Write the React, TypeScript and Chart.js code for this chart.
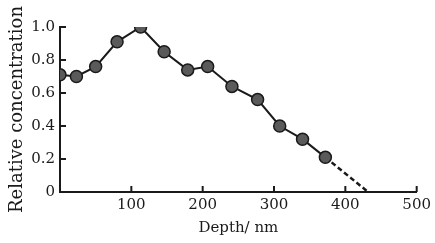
import React, { useEffect, useRef } from "react";
import { Chart, registerables } from "chart.js";

Chart.register(...registerables);

const depths = [0, 23, 50, 80, 113, 146, 179, 207, 241, 277, 308, 340, 372, 432];
const concentrations = [0.71, 0.70, 0.76, 0.91, 1.0, 0.85, 0.74, 0.76, 0.64, 0.56, 0.40, 0.32, 0.21, 0];
const xTicks = [0, 100, 200, 300, 400, 500];
const yTicks = [0, 0.2, 0.4, 0.6, 0.8, 1.0];
const xTitle = "Depth/ nm";
const yTitle = "Relative concentration";

const FONT = "DejaVu Serif";
const INK = "#1a1a1a";

const innerTicks = {
  id: "innerTicks",
  afterDraw(chart: any) {
    const { ctx, scales } = chart;
    const xs = scales.x;
    const ys = scales.y;
    ctx.save();
    ctx.strokeStyle = INK;
    ctx.lineWidth = 2;
    xTicks.forEach((v) => {
      if (v === 0) return;
      const px = xs.getPixelForValue(v);
      ctx.beginPath();
      ctx.moveTo(px, ys.bottom);
      ctx.lineTo(px, ys.bottom - 6);
      ctx.stroke();
    });
    yTicks.forEach((v) => {
      if (v === 0) return;
      const py = ys.getPixelForValue(v);
      ctx.beginPath();
      ctx.moveTo(xs.left, py);
      ctx.lineTo(xs.left + 6, py);
      ctx.stroke();
    });
    ctx.restore();
  },
};

export default function App() {
  const ref = useRef<HTMLCanvasElement | null>(null);
  useEffect(() => {
    document.body.style.margin = "0";
    const last = depths.length - 1;
    const chart = new Chart(ref.current as HTMLCanvasElement, {
      type: "line",
      data: {
        datasets: [
          {
            data: depths.map((d, i) => ({ x: d, y: concentrations[i] })),
            borderColor: INK,
            borderWidth: 2,
            pointRadius: depths.map((_, i) => (i === last ? 0 : 6)),
            pointBackgroundColor: "#5a5a5a",
            pointBorderColor: INK,
            pointBorderWidth: 1.5,
            tension: 0,
            segment: {
              borderDash: (c: any) => (c.p1DataIndex === last ? [5, 3] : undefined),
              borderWidth: (c: any) => (c.p1DataIndex === last ? 2.5 : undefined),
            },
          },
        ],
      },
      plugins: [innerTicks],
      options: {
        animation: false,
        responsive: false,
        maintainAspectRatio: false,
        layout: { padding: { top: 27, right: 8, left: 0, bottom: 0 } },
        plugins: { legend: { display: false }, tooltip: { enabled: false } },
        scales: {
          x: {
            type: "linear",
            min: 0,
            max: 500,
            afterBuildTicks: (s: any) => {
              s.ticks = xTicks.map((v) => ({ value: v }));
            },
            afterFit: (s: any) => {
              s.height = 51;
            },
            grid: { display: false, drawTicks: false },
            border: { display: true, color: INK, width: 2 },
            ticks: {
              color: INK,
              padding: 4,
              font: { family: FONT, size: 15 },
              callback: (v: any) => (v === 0 ? "" : String(v)),
            },
            title: {
              display: true,
              text: xTitle,
              color: INK,
              font: { family: FONT, size: 15 },
              padding: { top: 0, bottom: 6 },
            },
          },
          y: {
            type: "linear",
            min: 0,
            max: 1,
            afterBuildTicks: (s: any) => {
              s.ticks = yTicks.map((v) => ({ value: v }));
            },
            afterFit: (s: any) => {
              s.width = 60;
            },
            grid: { display: false, drawTicks: false },
            border: { display: true, color: INK, width: 2 },
            ticks: {
              color: INK,
              padding: 5,
              font: { family: FONT, size: 15 },
              callback: (v: any) => (v === 0 ? "0" : Number(v).toFixed(1)),
            },
            title: {
              display: true,
              text: yTitle,
              color: INK,
              font: { family: FONT, size: 18 },
              padding: { top: 7, bottom: 0 },
            },
          },
        },
      },
    } as any);
    return () => chart.destroy();
  }, []);
  return (
    <div style={{ position: "absolute", left: 0, top: 0, width: 435, height: 243, background: "#fff" }}>
      <canvas ref={ref} width={435} height={243} style={{ width: 435, height: 243 }} />
    </div>
  );
}
